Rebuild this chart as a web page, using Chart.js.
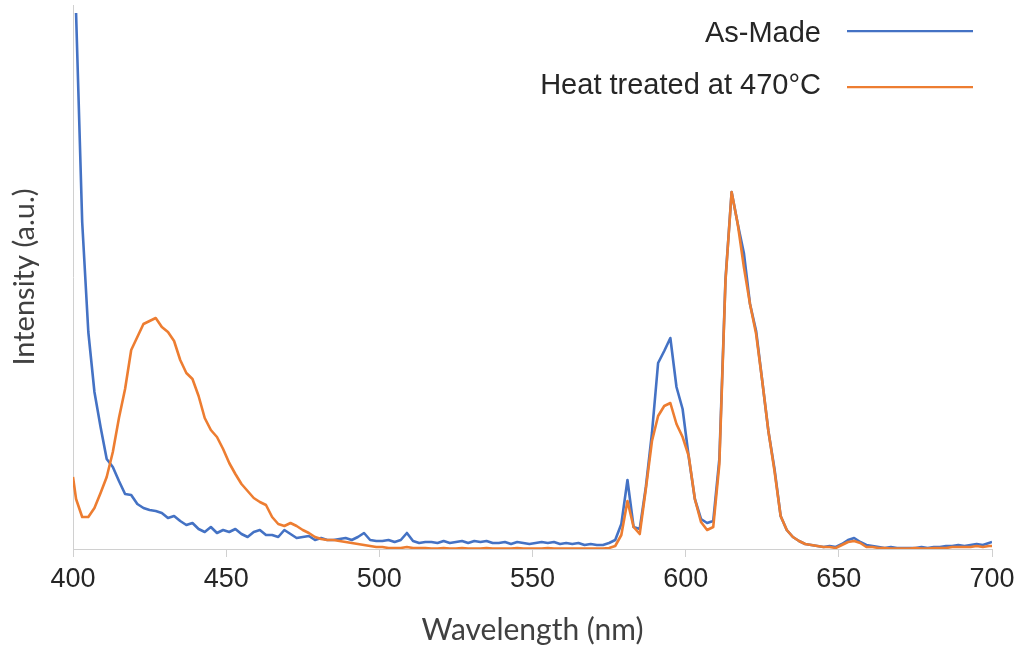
<!DOCTYPE html>
<html>
<head>
<meta charset="utf-8">
<script src="https://cdn.jsdelivr.net/npm/chart.js@4.4.1/dist/chart.umd.min.js"></script>
<style>
  html, body { margin: 0; padding: 0; background: #fff; }
</style>
</head>
<body>
<canvas id="spectrum" width="1026" height="648"></canvas>
<script>
// wavelength (nm) - shared sampling for both spectra
const wavelengths = [
  400,
  401, 403, 405, 407, 409, 411, 413, 415, 417, 419,
  421, 423, 425, 427, 429, 431, 433, 435, 437, 439,
  441, 443, 445, 447, 449, 451, 453, 455, 457, 459,
  461, 463, 465, 467, 469, 471, 473, 475, 477, 479,
  481, 483, 485, 487, 489, 491, 493, 495, 497, 499,
  501, 503, 505, 507, 509, 511, 513, 515, 517, 519,
  521, 523, 525, 527, 529, 531, 533, 535, 537, 539,
  541, 543, 545, 547, 549, 551, 553, 555, 557, 559,
  561, 563, 565, 567, 569, 571, 573, 575, 577, 579,
  581, 583, 585, 587, 589, 591, 593, 595, 597, 599,
  601, 603, 605, 607, 609, 611, 613, 615, 617, 619,
  621, 623, 625, 627, 629, 631, 633, 635, 637, 639,
  641, 643, 645, 647, 649, 651, 653, 655, 657, 659,
  661, 663, 665, 667, 669, 671, 673, 675, 677, 679,
  681, 683, 685, 687, 689, 691, 693, 695, 697, 699,
  700
];

const asMade = [
  null,
  536, 327, 217, 157, 122, 90, 82, 68, 55, 54,
  45, 41, 39, 38, 36, 31, 33, 28, 24, 26,
  20, 17, 22, 16, 19, 17, 20, 15, 12, 17,
  19, 14, 14, 12, 19, 15, 11, 12, 13, 9,
  11, 9, 9, 10, 11, 9, 12, 16, 9, 8,
  8, 9, 7, 9, 16, 8, 6, 7, 7, 6,
  8, 6, 7, 8, 6, 8, 7, 8, 6, 6,
  7, 5, 7, 6, 5, 6, 7, 6, 7, 5,
  6, 5, 6, 4, 5, 4, 4, 6, 9, 25,
  69, 22, 20, 62, 116, 186, 198, 211, 162, 140,
  92, 50, 30, 26, 28, 90, 270, 357, 325, 296,
  245, 218, 168, 118, 80, 33, 19, 12, 8, 5,
  4, 3, 2, 3, 2, 5, 9, 11, 7, 4,
  3, 2, 1, 2, 1, 1, 1, 1, 2, 1,
  2, 2, 3, 3, 4, 3, 4, 5, 4, 6,
  7
];

const heatTreated = [
  72,
  50, 32, 32, 41, 56, 72, 97, 131, 160, 199,
  212, 225, 228, 231, 222, 217, 208, 189, 176, 170,
  153, 131, 119, 112, 100, 86, 75, 65, 58, 51,
  47, 44, 32, 25, 23, 26, 23, 19, 16, 12,
  10, 9, 9, 8, 7, 6, 5, 4, 3, 2,
  2, 1, 1, 1, 2, 1, 1, 1, 0.5, 0.5,
  1, 0.5, 0.5, 1, 0.5, 0.5, 0.5, 1, 0.5, 0.5,
  0.5, 0.5, 1, 0.5, 0.5, 0.5, 0.5, 1, 0.5, 0.5,
  0.5, 0.5, 0.5, 0.5, 0.5, 0.5, 0.5, 1, 3, 14,
  48, 22, 15, 60, 108, 133, 143, 146, 125, 112,
  93, 50, 27, 19, 22, 85, 268, 357, 325, 282,
  245, 215, 168, 118, 78, 33, 19, 12, 8, 5,
  4, 3, 2, 2, 1, 4, 7, 8, 6, 2,
  2, 1, 1, 0.5, 0.5, 0.5, 0.5, 1, 0.5, 0.5,
  1, 1, 1, 2, 2, 2, 2, 3, 2, 3,
  3
];

const xTicks = [400, 450, 500, 550, 600, 650, 700];
const seriesLabels = ['As-Made', 'Heat treated at 470°C'];

const toPoints = ys => wavelengths.map((w, i) => ({ x: w, y: ys[i] }));

// legend: text on the left, line sample on the right
const sideLegend = {
  id: 'sideLegend',
  afterDraw(chart) {
    const ctx = chart.ctx;
    const rows = [
      { ds: chart.data.datasets[1], textY: 42, lineY: 31 },
      { ds: chart.data.datasets[0], textY: 94, lineY: 87 }
    ];
    ctx.save();
    ctx.font = '29px "Liberation Sans", Arial, sans-serif';
    ctx.textAlign = 'right';
    ctx.textBaseline = 'alphabetic';
    ctx.fillStyle = '#262626';
    rows.forEach(r => {
      ctx.fillText(r.ds.label, 821, r.textY);
      ctx.strokeStyle = r.ds.borderColor;
      ctx.lineWidth = 2.25;
      ctx.beginPath();
      ctx.moveTo(847, r.lineY);
      ctx.lineTo(973, r.lineY);
      ctx.stroke();
    });
    ctx.restore();
  }
};

new Chart(document.getElementById('spectrum'), {
  type: 'line',
  data: {
    datasets: [
      {
        label: seriesLabels[1],
        data: toPoints(heatTreated),
        borderColor: '#ED7D31',
        borderWidth: 2.6,
        pointRadius: 0,
        tension: 0,
        borderJoinStyle: 'round',
        spanGaps: true
      },
      {
        label: seriesLabels[0],
        data: toPoints(asMade),
        borderColor: '#4472C4',
        borderWidth: 2.6,
        pointRadius: 0,
        tension: 0,
        borderJoinStyle: 'round',
        spanGaps: true
      }
    ]
  },
  options: {
    responsive: false,
    animation: false,
    layout: { padding: { left: 0, right: 34, top: 5, bottom: 0 } },
    plugins: {
      legend: { display: false },
      tooltip: { enabled: false }
    },
    scales: {
      x: {
        type: 'linear',
        min: 400,
        max: 700,
        afterBuildTicks: axis => { axis.ticks = xTicks.map(v => ({ value: v })); },
        afterFit: axis => { axis.height = 99; },
        grid: { drawOnChartArea: false, drawTicks: true, tickLength: 8, color: '#d0d0d0' },
        border: { color: '#d0d0d0', width: 1 },
        ticks: {
          color: '#262626',
          padding: 6,
          maxRotation: 0,
          font: { family: '"Liberation Sans", Arial, sans-serif', size: 27 }
        },
        title: {
          display: true,
          text: 'Wavelength (nm)',
          color: '#404040',
          padding: { top: 0, bottom: 0 },
          font: { family: 'Lato, "Open Sans", sans-serif', size: 30 }
        }
      },
      y: {
        min: 0,
        max: 544,
        afterFit: axis => { axis.width = 73; },
        grid: { display: false },
        border: { color: '#d0d0d0', width: 1 },
        ticks: { display: false },
        title: {
          display: true,
          text: 'Intensity (a.u.)',
          color: '#404040',
          padding: { top: 7, bottom: 0 },
          font: { family: 'Lato, "Open Sans", sans-serif', size: 29 }
        }
      }
    }
  },
  plugins: [sideLegend]
});
</script>
</body>
</html>
